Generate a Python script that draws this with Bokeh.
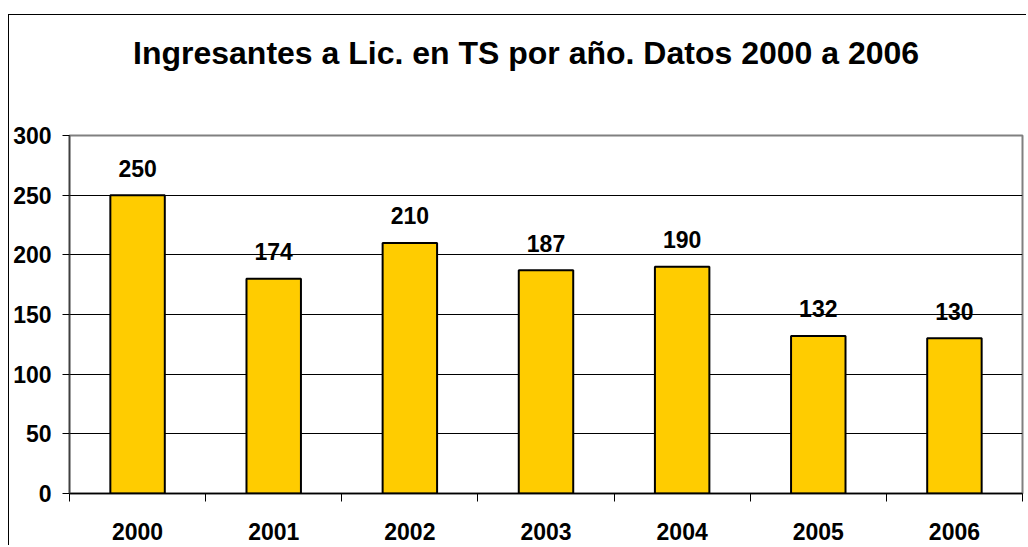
from bokeh.plotting import figure
from bokeh.models import Range1d, FixedTicker, ColumnDataSource, Title
from bokeh.core.properties import value
from bokeh.embed import file_html
from bokeh.resources import INLINE

years = ["2000", "2001", "2002", "2003", "2004", "2005", "2006"]
heights = [250, 180, 210, 187, 190, 132, 130]
labels = ["250", "174", "210", "187", "190", "132", "130"]
y_ticks = [0, 50, 100, 150, 200, 250, 300]
title_text = "Ingresantes a Lic. en TS por año. Datos 2000 a 2006"

FONT = "Liberation Sans"

centers = [i + 0.5 for i in range(len(years))]
src = ColumnDataSource(dict(x=centers, top=heights, lab=labels))

p = figure(width=1018, height=531, output_backend="svg", toolbar_location=None,
           x_range=Range1d(0, len(years)), y_range=Range1d(0, 300),
           min_border_left=60, min_border_top=120, min_border_right=5, min_border_bottom=53)
p.margin = (14, 0, 0, 8)
p.styles = {"border-left": "1.5px solid black", "border-top": "1.5px solid black"}
p.background_fill_color = "white"
p.border_fill_color = "white"
p.outline_line_color = "#808080"
p.outline_line_width = 2

# spacer between title and plot area
p.add_layout(Title(text=" ", text_font_size="1px", standoff=57), "above")

p.title.text = title_text
p.title.align = "left"
p.title.offset = 63.5
p.title.standoff = 10
p.title.vertical_align = "bottom"
p.title.text_font = FONT
p.title.text_font_style = "bold"
p.title.text_font_size = "32px"
p.title.text_color = "black"

p.vbar(x="x", top="top", width=0.40, source=src, fill_color="#FFCC00",
       line_color="black", line_width=2)
p.text(x="x", y="top", text="lab", source=src, text_align="center",
       text_baseline="alphabetic", y_offset=-27, text_font=value(FONT),
       text_font_style="bold", text_font_size="23px", text_color="black")

# axes
p.xaxis.ticker = FixedTicker(ticks=centers, minor_ticks=list(range(len(years) + 1)))
p.xaxis.major_label_overrides = {c: y for c, y in zip(centers, years)}
p.xaxis.major_tick_out = 0
p.xaxis.major_tick_in = 0
p.xaxis.minor_tick_out = 8
p.xaxis.minor_tick_in = 0
p.xaxis.minor_tick_line_color = "black"
p.xaxis.minor_tick_line_width = 1
p.xaxis.axis_line_color = "black"
p.xaxis.axis_line_width = 1.5
p.xaxis.major_label_standoff = 21
p.xaxis.major_label_text_font = FONT
p.xaxis.major_label_text_font_style = "bold"
p.xaxis.major_label_text_font_size = "23px"
p.xaxis.major_label_text_color = "black"

p.yaxis.ticker = FixedTicker(ticks=y_ticks)
p.yaxis.major_tick_out = 7
p.yaxis.major_tick_in = 0
p.yaxis.minor_tick_line_color = None
p.yaxis.major_tick_line_color = "black"
p.yaxis.axis_line_color = "#404040"
p.yaxis.axis_line_width = 1.5
p.yaxis.major_label_standoff = 11
p.yaxis.major_label_text_font = FONT
p.yaxis.major_label_text_font_style = "bold"
p.yaxis.major_label_text_font_size = "23px"
p.yaxis.major_label_text_color = "black"

p.xgrid.grid_line_color = None
p.ygrid.ticker = FixedTicker(ticks=[50, 100, 150, 200, 250])
p.ygrid.grid_line_color = "black"
p.ygrid.grid_line_width = 1

open("out.html", "w").write(file_html(p, INLINE))
